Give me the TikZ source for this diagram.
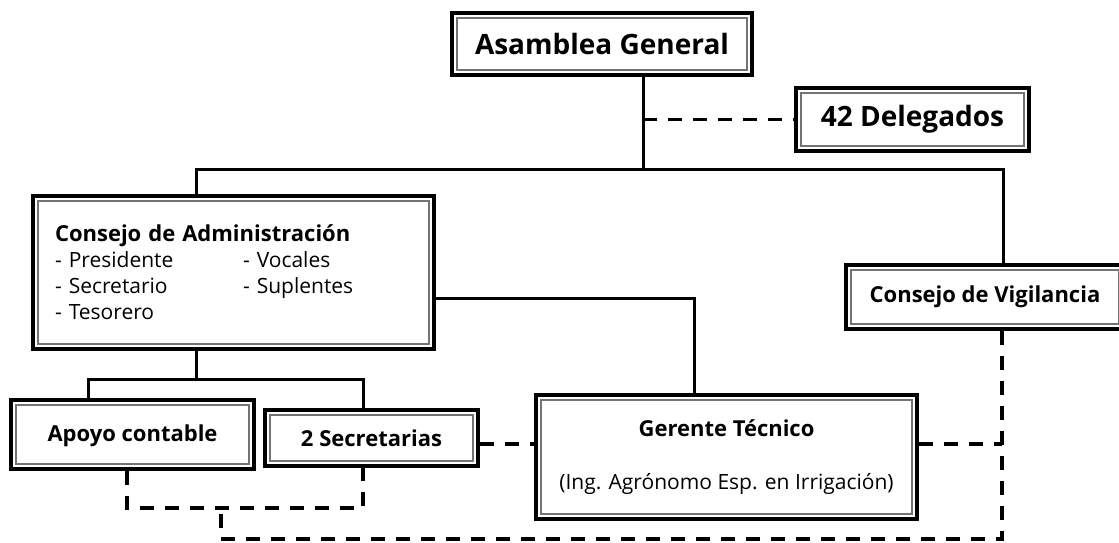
\documentclass[tikz,border=0pt]{standalone}
\usepackage{fontspec}
\setmainfont{Open Sans}
\tikzset{
  box/.style={draw, line width=3.5pt, fill=white, inner sep=0pt, align=center,
    path picture={\draw[line width=1.3pt, black!55]
      ([shift={(5pt,5pt)}]path picture bounding box.south west) rectangle
      ([shift={(-5pt,-5pt)}]path picture bounding box.north east);}},
  bigtxt/.style={font=\bfseries\fontsize{28}{32}\selectfont},
  midtxt/.style={font=\fontsize{21}{26}\selectfont},
  boldtxt/.style={font=\bfseries\fontsize{22}{26}\selectfont},
  conn/.style={line width=3pt},
  dsh/.style={line width=3.5pt, dash pattern=on 14pt off 11pt},
}
\begin{document}
\begin{tikzpicture}[x=1pt, y=-1pt]
\useasboundingbox (0,0) rectangle (1119,542);
% boxes
\node[box, bigtxt, minimum width=300pt, minimum height=62pt] (asam) at (602,44) {Asamblea General};
\node[box, bigtxt, minimum width=233pt, minimum height=63pt] (deleg) at (912.5,119.5) {42 Delegados};
\node[box, midtxt, minimum width=401pt, minimum height=153pt, text width=357pt, align=left] (adm) at (233.5,272.5)
  {{\bfseries\fontsize{22}{26}\selectfont Consejo de Administración}\\
   \makebox[188pt][l]{- Presidente}- Vocales\\
   \makebox[188pt][l]{- Secretario}- Suplentes\\
   - Tesorero};
\node[box, boldtxt, minimum width=278pt, minimum height=64pt] (vig) at (985,297) {Consejo de Vigilancia};
\node[box, boldtxt, minimum width=243pt, minimum height=69pt, text depth=3pt] (apo) at (132.5,434.5) {Apoyo contable};
\node[box, boldtxt, minimum width=213pt, minimum height=56pt] (sec) at (371.5,438) {2 Secretarias};
\node[box, midtxt, minimum width=381pt, minimum height=124pt] (ger) at (726.5,457)
  {{\bfseries\fontsize{22}{26}\selectfont Gerente Técnico}\\[27pt] (Ing. Agrónomo Esp. en Irrigación)};
% junctions
\coordinate (jTop) at (643,169);
\coordinate (jL) at (196,169);
\coordinate (jR) at (1003,169);
\coordinate (jG) at (694,298);
\coordinate (jB) at (196,379);
\coordinate (jBL) at (88,379);
\coordinate (jBR) at (363,379);
\coordinate (jV) at (1002,539);
\coordinate (jM) at (221,539);
\coordinate (jMt) at (221,508);
\coordinate (jA) at (127,508);
\coordinate (jS) at (363,508);
% solid connectors
\draw[conn] (asam.south -| jTop) -- (jTop);
\draw[conn] (adm.north -| jL) -- (jL) -- (jR) -- (vig.north -| jR);
\draw[conn] (adm.east |- jG) -- (jG) -- (ger.north -| jG);
\draw[conn] (adm.south -| jB) -- (jB);
\draw[conn] (apo.north -| jBL) -- (jBL) -- (jBR) -- (sec.north -| jBR);
% dashed connectors
\draw[dsh] (deleg.west -| jTop) -- (deleg.west);
\draw[dsh] ([yshift=-6pt]sec.east) -- ([yshift=-6pt]sec.east -| ger.west);
\draw[dsh] ([yshift=13pt]ger.east) -- ([yshift=13pt]ger.east -| jV);
\draw[dsh] (vig.south -| jV) -- (jV) -- (jM) -- (jMt);
\draw[dsh] (apo.south -| jA) -- (jA) -- (jS) -- (sec.south -| jS);
\end{tikzpicture}
\end{document}
